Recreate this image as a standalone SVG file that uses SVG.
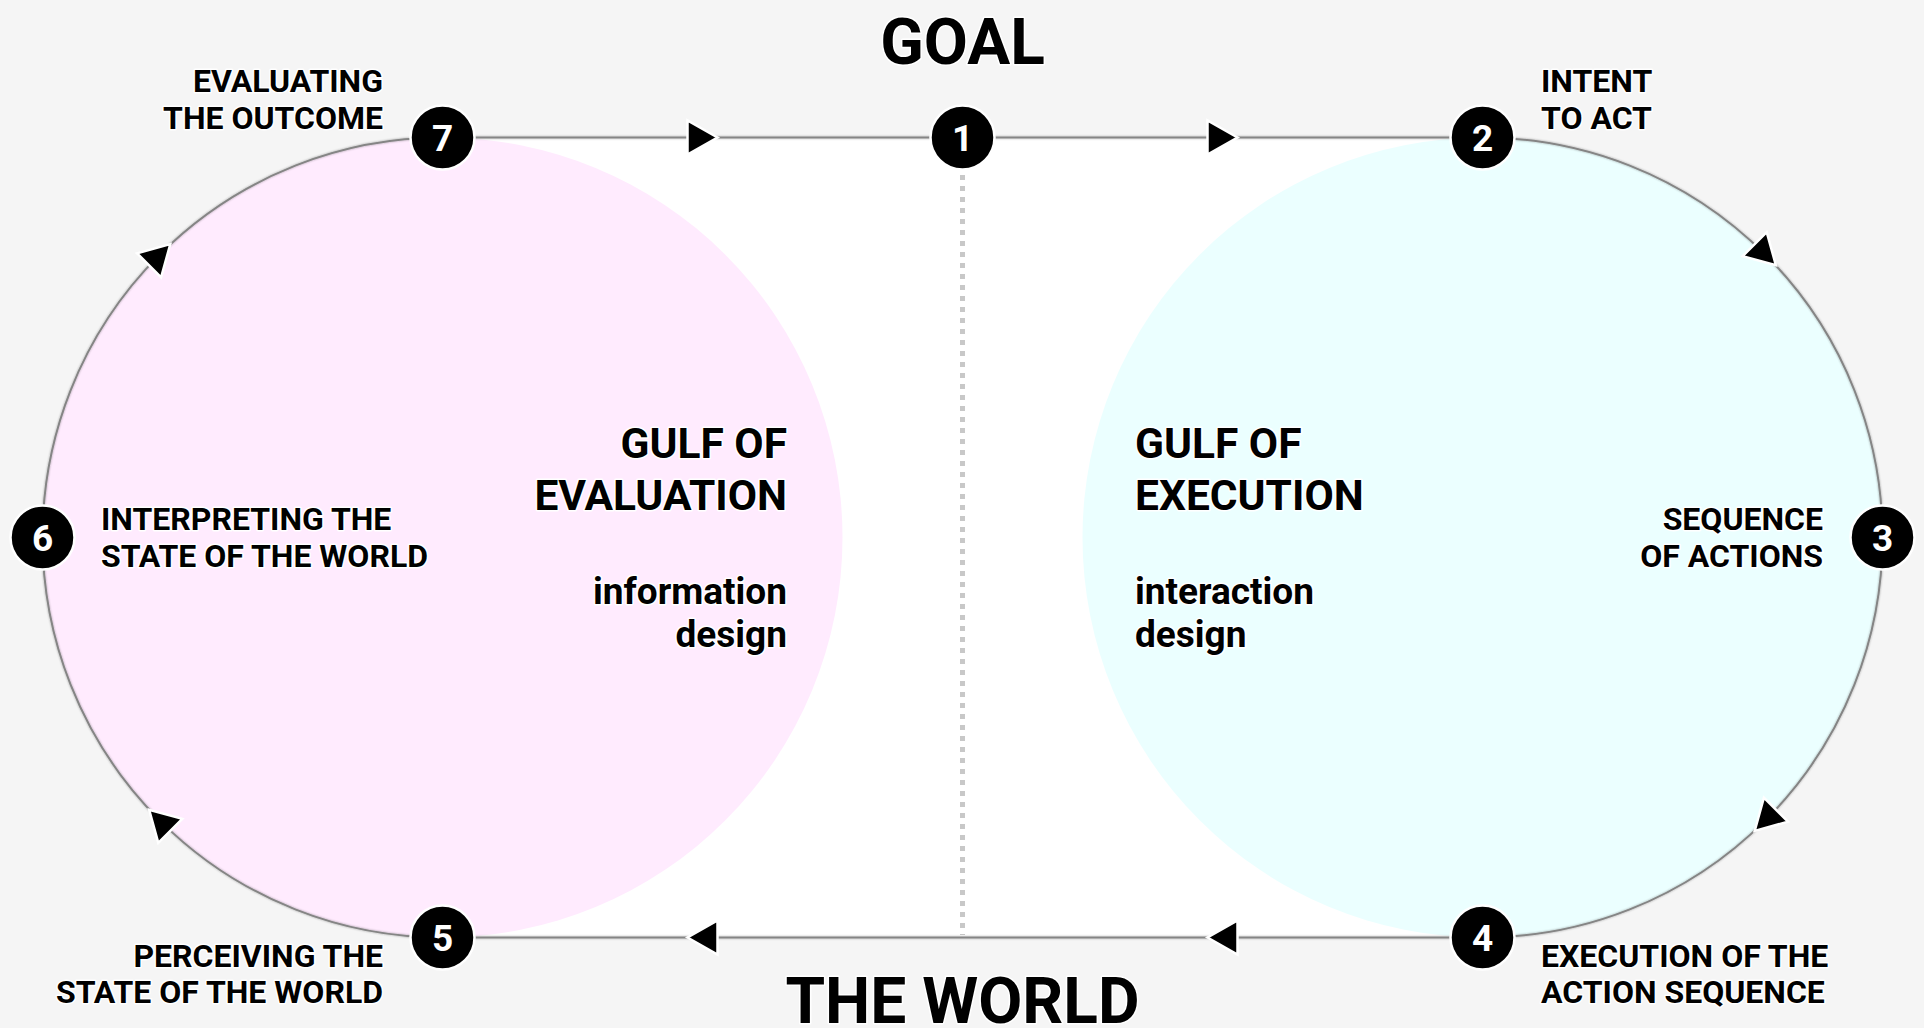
<svg xmlns="http://www.w3.org/2000/svg" width="1924" height="1028" viewBox="0 0 1924 1028">
<style>
  .lbl { font-family: Roboto, "Liberation Sans", sans-serif; font-weight: 700; fill: #000; stroke: #fff; stroke-width: 3; paint-order: stroke; stroke-linejoin: round; }
  .step { font-size: 32px; }
  .gulf { font-size: 42.5px; }
  .sub { font-size: 37px; }
  .big { font-size: 64px; }
  .num { font-family: Roboto, "Liberation Sans", sans-serif; font-weight: 700; font-size: 37px; fill: #fff; text-anchor: middle; }
  .dot { fill: #000; stroke: #fff; stroke-width: 2.5; }
  .line { fill: none; stroke: #858585; stroke-width: 2; }
  .arrow { fill: #000; stroke: #fff; stroke-width: 2.5; stroke-linejoin: miter; }
  .end { text-anchor: end; }
</style>
<defs>
  <polygon id="tri" points="15,0 -15,-17 -15,17"/>
  <filter id="sh" x="-5%" y="-5%" width="110%" height="110%">
    <feDropShadow dx="0" dy="0" stdDeviation="1" flood-color="#000" flood-opacity="0.35"/>
  </filter>
</defs>

<!-- background and regions -->
<rect x="0" y="0" width="1924" height="1028" fill="#f5f5f5"/>
<rect x="442.5" y="137.5" width="1040" height="800" fill="#ffffff"/>
<circle id="region-evaluation" cx="442.5" cy="537.5" r="400" fill="#ffebfe"/>
<circle id="region-execution" cx="1482.5" cy="537.5" r="400" fill="#ebffff"/>

<!-- connectors -->
<g id="connectors">
  <line x1="962.5" y1="175" x2="962.5" y2="935" stroke="#c8c8c8" stroke-width="5" stroke-dasharray="5 6"/>
  <g filter="url(#sh)">
    <line class="line" x1="442.5" y1="137.5" x2="1482.5" y2="137.5"/>
    <line class="line" x1="442.5" y1="937.5" x2="1482.5" y2="937.5"/>
    <path class="line" d="M442.5,137.5 A400,400 0 0 0 442.5,937.5"/>
    <path class="line" d="M1482.5,137.5 A400,400 0 0 1 1482.5,937.5"/>
  </g>
  <use href="#tri" class="arrow" transform="translate(702.5,137.5)"/>
  <use href="#tri" class="arrow" transform="translate(1222.5,137.5)"/>
  <use href="#tri" class="arrow" transform="translate(1765.3,254.7) rotate(45)"/>
  <use href="#tri" class="arrow" transform="translate(1765.3,820.3) rotate(135)"/>
  <use href="#tri" class="arrow" transform="translate(1222.5,937.5) rotate(180)"/>
  <use href="#tri" class="arrow" transform="translate(702.5,937.5) rotate(180)"/>
  <use href="#tri" class="arrow" transform="translate(159.7,820.3) rotate(-135)"/>
  <use href="#tri" class="arrow" transform="translate(159.7,254.7) rotate(-45)"/>
</g>

<!-- titles -->
<g id="goal"><text class="lbl big" x="962.5" y="64" text-anchor="middle">GOAL</text></g>
<g id="the-world"><text class="lbl big" x="962.5" y="1023" text-anchor="middle">THE WORLD</text></g>

<!-- gulf labels -->
<g id="gulf-evaluation">
  <text class="lbl gulf end" x="787" y="458">GULF OF</text>
  <text class="lbl gulf end" x="787" y="510">EVALUATION</text>
  <text class="lbl sub end" x="787" y="604">information</text>
  <text class="lbl sub end" x="787" y="647">design</text>
</g>
<g id="gulf-execution">
  <text class="lbl gulf" x="1135" y="458">GULF OF</text>
  <text class="lbl gulf" x="1135" y="510">EXECUTION</text>
  <text class="lbl sub" x="1135" y="604">interaction</text>
  <text class="lbl sub" x="1135" y="647">design</text>
</g>

<!-- nodes -->
<g id="node-1">
  <circle class="dot" cx="962.5" cy="137.5" r="32"/>
  <text class="num" x="962.5" y="150.5">1</text>
</g>
<g id="node-2">
  <circle class="dot" cx="1482.5" cy="137.5" r="32"/>
  <text class="num" x="1482.5" y="150.5">2</text>
  <text class="lbl step" x="1541" y="92">INTENT</text>
  <text class="lbl step" x="1541" y="129">TO ACT</text>
</g>
<g id="node-3">
  <circle class="dot" cx="1882.5" cy="537.5" r="32"/>
  <text class="num" x="1882.5" y="550.5">3</text>
  <text class="lbl step end" x="1823" y="530">SEQUENCE</text>
  <text class="lbl step end" x="1823" y="567">OF ACTIONS</text>
</g>
<g id="node-4">
  <circle class="dot" cx="1482.5" cy="937.5" r="32"/>
  <text class="num" x="1482.5" y="950.5">4</text>
  <text class="lbl step" x="1541" y="967">EXECUTION OF THE</text>
  <text class="lbl step" x="1541" y="1003">ACTION SEQUENCE</text>
</g>
<g id="node-5">
  <circle class="dot" cx="442.5" cy="937.5" r="32"/>
  <text class="num" x="442.5" y="950.5">5</text>
  <text class="lbl step end" x="383" y="967">PERCEIVING THE</text>
  <text class="lbl step end" x="383" y="1003">STATE OF THE WORLD</text>
</g>
<g id="node-6">
  <circle class="dot" cx="42.5" cy="537.5" r="32"/>
  <text class="num" x="42.5" y="550.5">6</text>
  <text class="lbl step" x="101" y="530">INTERPRETING THE</text>
  <text class="lbl step" x="101" y="567">STATE OF THE WORLD</text>
</g>
<g id="node-7">
  <circle class="dot" cx="442.5" cy="137.5" r="32"/>
  <text class="num" x="442.5" y="150.5">7</text>
  <text class="lbl step end" x="383" y="92">EVALUATING</text>
  <text class="lbl step end" x="383" y="129">THE OUTCOME</text>
</g>
</svg>
